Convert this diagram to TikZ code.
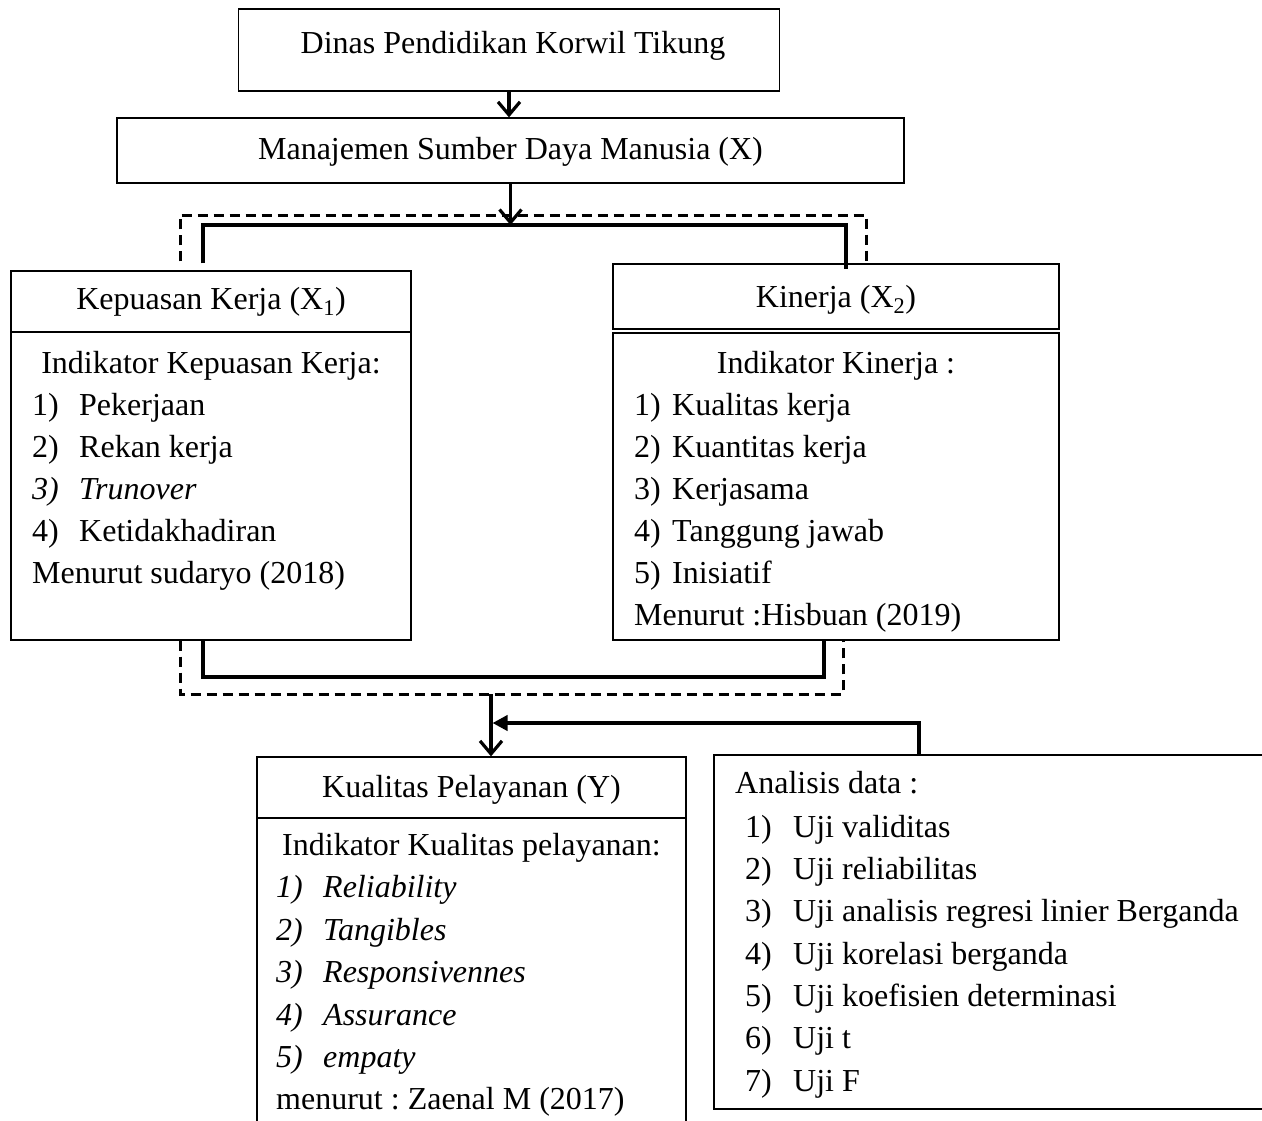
\documentclass[tikz,border=0pt]{standalone}
\usepackage{fontspec}
\setmainfont{Liberation Serif}
\usetikzlibrary{arrows.meta}
\frenchspacing

\tikzset{
  box/.style={draw, rectangle, line width=1.3pt, inner sep=0pt},
  txt/.style={inner sep=0pt},
  link/.style={line width=4pt},
  dashlink/.style={line width=3pt, dash pattern=on 10pt off 6pt},
  flow/.style={line width=3.2pt, -{Straight Barb[length=13pt, width=22pt]}},
  back/.style={line width=4pt, -{Triangle[length=15pt, width=15pt]}}
}

\begin{document}
\begin{tikzpicture}[x=1pt, y=-1pt, font=\fontsize{32}{42}\selectfont]
      \useasboundingbox (0,0) rectangle (1262,1120);

      % Top boxes
      \node[box, minimum width=541pt, minimum height=82pt] (dinas) at (509,50) {};
      \node[txt, anchor=base] (dinast) at (513,53) {Dinas Pendidikan Korwil Tikung};
      \node[box, minimum width=787pt, minimum height=65pt] (msdm) at (510.5,150.5) {};
      \node[txt, anchor=base] (msdmt) at (510.5,159) {Manajemen Sumber Daya Manusia (X)};

      % Kepuasan Kerja
      \node[box, minimum width=400pt, minimum height=61pt] (kephead) at (211,301.5) {};
      \node[box, minimum width=400pt, minimum height=308pt] (kepbody) at (211,486) {};
      \node[txt, anchor=base] (kept) at (211,309) {Kepuasan Kerja (X\textsubscript{1})};
      \node[txt, anchor=base] (kepind) at (211,373) {Indikator Kepuasan Kerja:};
      \foreach \n/\t [count=\i] in {1)/Pekerjaan, 2)/Rekan kerja, \textit{3)}/\textit{Trunover}, 4)/Ketidakhadiran}
        {
        \node[txt, anchor=base west] (kepn\i) at (32,{373+42*\i}) {\n};
        \node[txt, anchor=base west] (kepi\i) at (79,{373+42*\i}) {\t};
        }
      \node[txt, anchor=base west] (kepsrc) at (32,583) {Menurut sudaryo (2018)};

      % Kinerja
      \node[box, minimum width=446pt, minimum height=65pt] (kinhead) at (836,296.5) {};
      \node[box, minimum width=446pt, minimum height=307pt] (kinbody) at (836,486.5) {};
      \node[txt, anchor=base] (kint) at (836,307) {Kinerja (X\textsubscript{2})};
      \node[txt, anchor=base] (kinind) at (836,373) {Indikator Kinerja :};
      \foreach \n/\t [count=\i] in {1)/Kualitas kerja, 2)/Kuantitas kerja, 3)/Kerjasama, 4)/Tanggung jawab, 5)/Inisiatif}
        {
        \node[txt, anchor=base west] (kinn\i) at (634,{373+42*\i}) {\n};
        \node[txt, anchor=base west] (kini\i) at (672,{373+42*\i}) {\t};
        }
      \node[txt, anchor=base west] (kinsrc) at (634,625) {Menurut :Hisbuan (2019)};

      % Kualitas Pelayanan
      \node[box, minimum width=429pt, minimum height=61pt] (kualhead) at (471.5,787.5) {};
      \node[box, minimum width=429pt, minimum height=322pt] (kualbody) at (471.5,979) {};
      \node[txt, anchor=base] (kualt) at (471.5,797) {Kualitas Pelayanan (Y)};
      \node[txt, anchor=base] (kualind) at (471.5,855) {Indikator Kualitas pelayanan:};
      \foreach \n/\t [count=\i] in {1)/Reliability, 2)/Tangibles, 3)/Responsivennes, 4)/Assurance, 5)/empaty}
        {
        \node[txt, anchor=base west] (kualn\i) at (276,{855+42.5*\i}) {\textit{\n}};
        \node[txt, anchor=base west] (kuali\i) at (323,{855+42.5*\i}) {\textit{\t}};
        }
      \node[txt, anchor=base west] (kualsrc) at (276,1109) {menurut : Zaenal M (2017)};

      % Analisis data
      \node[box, minimum width=576pt, minimum height=354pt] (anal) at (1002,932) {};
      \node[txt, anchor=base west] (analt) at (735,793) {Analisis data :};
      \foreach \n/\t [count=\i] in {1)/Uji validitas, 2)/Uji reliabilitas, 3)/Uji analisis regresi linier Berganda, 4)/Uji korelasi berganda, 5)/Uji koefisien determinasi, 6)/Uji t, 7)/Uji F}
        {
        \node[txt, anchor=base west] (analn\i) at (745,{795+42.3*\i}) {\n};
        \node[txt, anchor=base west] (anali\i) at (793,{795+42.3*\i}) {\t};
        }

      % connectors
      \coordinate (tl) at (203,225);
      \coordinate (tr) at (846,225);
      \coordinate (dl) at (180,215);
      \coordinate (dr) at (866,215);
      \coordinate (bl) at (203,677);
      \coordinate (br) at (824,677);
      \coordinate (cl) at (180,694);
      \coordinate (cr) at (843,694);
      \coordinate (dj) at (491,694);
      \coordinate (aj) at (919,723);

      \draw[flow] (dinas.south) -- (dinas.south |- msdm.north);
      \draw[dashlink, shorten <=9pt, shorten >=2pt] (kephead.north -| dl) -- (dl) -- (dr) -- (kinhead.north -| dr);
      \draw[link, shorten <=7pt, shorten >=-6pt] (kephead.north -| tl) -- (tl) -- (tr) -- (kinhead.north -| tr);
      \draw[flow] (msdm.south) -- (msdm.south |- tl);
      \draw[link] (kepbody.south -| bl) -- (bl) -- (br) -- (kinbody.south -| br);
      \draw[dashlink] (kepbody.south -| cl) -- (cl) -- (cr) -- (kinbody.south -| cr);
      \draw[flow] (dj) -- (dj |- kualhead.north);
      \draw[back, shorten >=1.5pt] (anal.north -| aj) -- (aj) -- (dj |- aj);
    \end{tikzpicture}
\end{document}
